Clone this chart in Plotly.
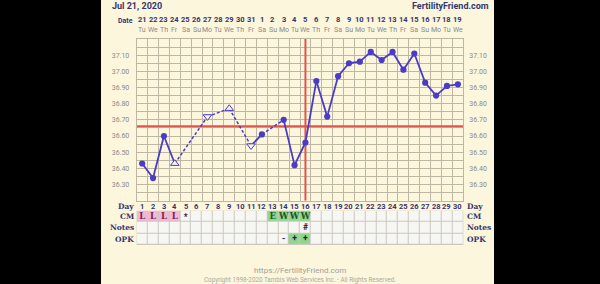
import plotly.graph_objects as go

# ---------------- data ----------------
days = list(range(1, 31))
dates = ["21", "22", "23", "24", "25", "26", "27", "28", "29", "30", "31",
         "1", "2", "3", "4", "5", "6", "7", "8", "9", "10", "11", "12", "13",
         "14", "15", "16", "17", "18", "19"]
weekdays = ["Tu", "We", "Th", "Fr", "Sa", "Su", "Mo", "Tu", "We", "Th", "Fr",
            "Sa", "Su", "Mo", "Tu", "We", "Th", "Fr", "Sa", "Su", "Mo", "Tu",
            "We", "Th", "Fr", "Sa", "Su", "Mo", "Tu", "We"]
temps = [36.43, 36.34, 36.60, 36.43, None, None, 36.72, None, 36.77, None,
         36.54, 36.61, None, 36.70, 36.42, 36.56, 36.94, 36.72, 36.97, 37.05,
         37.06, 37.12, 37.07, 37.12, 37.01, 37.11, 36.93, 36.85, 36.91, 36.92]
temp_marker = ["dot", "dot", "dot", "up", None, None, "down", None, "up", None,
               "down", "dot", None, "dot", "dot", "dot", "dot", "dot", "dot", "dot",
               "dot", "dot", "dot", "dot", "dot", "dot", "dot", "dot", "dot", "dot"]
temp_grid = [36.20, 36.25, 36.30, 36.35, 36.40, 36.45, 36.50, 36.55, 36.60, 36.65,
             36.70, 36.75, 36.80, 36.85, 36.90, 36.95, 37.00, 37.05, 37.10, 37.15, 37.20]
temp_labels = ["", "", "36.30", "", "36.40", "", "36.50", "", "36.60", "", "36.70",
               "", "36.80", "", "36.90", "", "37.00", "", "37.10", "", ""]
coverline = 36.66
ovulation_day = 16

cm = ["L", "L", "L", "L", "*", "", "", "", "", "", "", "", "E", "W", "W", "W",
      "", "", "", "", "", "", "", "", "", "", "", "", "", ""]
notes = ["", "", "", "", "", "", "", "", "", "", "", "", "", "", "", "#",
         "", "", "", "", "", "", "", "", "", "", "", "", "", ""]
opk = ["", "", "", "", "", "", "", "", "", "", "", "", "", "-", "+", "+",
       "", "", "", "", "", "", "", "", "", "", "", "", "", ""]

# ---------------- geometry / style ----------------
W, H = 600, 284
PAGE_X0, PAGE_X1 = 101, 494
GX0, GX1 = 136.7, 463.3
GY0, GY1 = 39.0, 200.7
TY0, TY1 = 210.7, 245.0

def fx(px):
    return px / W

def fy(py):
    return 1 - py / H

BEIGE = "#fcf6dc"
GRID = "#bdb7a3"
NAVY = "#37356e"
GRAYTXT = "#8a8a8a"
LINE = "#4a3cc6"
RED = "#e2554e"
PINK = "#f2b8d5"
GREEN = "#8fd68f"
CELL = "#f6f6f2"
FONT = "Roboto"
SERIF = "DejaVu Serif"

x_range = [days[0] - 0.5, days[-1] + 0.5]
y_range = [temp_grid[0], temp_grid[-1]]

fig = go.Figure()

# temperature line segments
sx, sy, dx, dy = [], [], [], []
present = [i for i, t in enumerate(temps) if t is not None]
for a, b in zip(present, present[1:]):
    if b - a == 1:
        sx += [days[a], days[b], None]
        sy += [temps[a], temps[b], None]
    else:
        dx += [days[a], days[b], None]
        dy += [temps[a], temps[b], None]

fig.add_trace(go.Scatter(x=dx, y=dy, mode="lines", line=dict(color=LINE, width=1.5, dash="3px,2px"),
                         hoverinfo="skip", showlegend=False))
fig.add_trace(go.Scatter(x=sx, y=sy, mode="lines", line=dict(color=LINE, width=1.8),
                         hoverinfo="skip", showlegend=False))

symbols = {"dot": "circle", "up": "triangle-up", "down": "triangle-down"}
for kind, sym in symbols.items():
    xs = [d for d, t, k in zip(days, temps, temp_marker) if t is not None and k == kind]
    ys = [t for t, k in zip(temps, temp_marker) if t is not None and k == kind]
    if kind == "dot":
        mk = dict(symbol=sym, size=6.2, color=LINE)
    else:
        mk = dict(symbol=sym, size=7.5, color=BEIGE, line=dict(color=LINE, width=1))
    fig.add_trace(go.Scatter(x=xs, y=ys, mode="markers", marker=mk,
                             hoverinfo="skip", showlegend=False))

# table (CM / Notes / OPK)
def code(v):
    if v == "L":
        return 1
    if v in ("E", "W", "+"):
        return 2
    return 0

table_rows = [opk, notes, cm]
fig.add_trace(go.Heatmap(
    x=days, y=[0, 1, 2], z=[[code(v) for v in r] for r in table_rows],
    zmin=0, zmax=2, colorscale=[[0, CELL], [0.5, PINK], [1, GREEN]],
    showscale=False, xgap=1, ygap=1, hoverinfo="skip",
    xaxis="x2", yaxis="y3"))

tx, ty, tt, tc, tf = [], [], [], [], []
for ri, r in enumerate(table_rows):
    for d, v in zip(days, r):
        if v:
            tx.append(d)
            ty.append(ri - (0.12 if v == "*" else 0))
            tt.append("<b>" + v + "</b>")
            if v == "L":
                tc.append("#7d2350")
                tf.append(SERIF)
            elif v in ("E", "W"):
                tc.append("#1e5a1e")
                tf.append(SERIF)
            else:
                tc.append("#222244")
                tf.append(FONT)
fig.add_trace(go.Scatter(x=tx, y=ty, text=tt, mode="text",
                         textfont=dict(family=tf, size=8.5, color=tc),
                         hoverinfo="skip", showlegend=False, xaxis="x2", yaxis="y3"))

# invisible trace to activate the right-side temperature axis
fig.add_trace(go.Scatter(x=[None], y=[None], yaxis="y2", xaxis="x", showlegend=False, hoverinfo="skip"))

# ---------------- layout ----------------
boundaries = [d - 0.5 for d in days] + [days[-1] + 0.5]

shapes = [
    dict(type="rect", xref="paper", yref="paper", x0=fx(PAGE_X0), x1=fx(PAGE_X1), y0=0, y1=1,
         fillcolor=BEIGE, line=dict(width=0), layer="below"),
    dict(type="rect", xref="paper", yref="paper", x0=fx(GX0), x1=fx(GX1), y0=fy(TY1), y1=fy(TY0),
         fillcolor="#cac8bf", line=dict(width=0), layer="below"),
    dict(type="line", xref="x", yref="y", x0=ovulation_day, x1=ovulation_day,
         y0=y_range[0], y1=y_range[1], line=dict(color=RED, width=2), layer="between"),
    dict(type="line", xref="x", yref="y", x0=x_range[0], x1=x_range[1], y0=coverline, y1=coverline,
         line=dict(color=RED, width=2), layer="between"),
]

ann = []
ann.append(dict(text="<b>Jul 21, 2020</b>", x=fx(110), y=fy(6), xref="paper", yref="paper",
                xanchor="left", yanchor="middle", showarrow=False,
                font=dict(family=FONT, size=9, color=NAVY)))
ann.append(dict(text="<b>FertilityFriend.com</b>", x=fx(491), y=fy(6), xref="paper", yref="paper",
                xanchor="right", yanchor="middle", showarrow=False,
                font=dict(family=FONT, size=9, color=NAVY)))
ann.append(dict(text="<b>Date</b>", x=fx(135), y=fy(21), xref="paper", yref="paper",
                xanchor="right", yanchor="middle", showarrow=False,
                font=dict(family=FONT, size=7, color=NAVY)))
for d, lab, wd in zip(days, dates, weekdays):
    ann.append(dict(text="<b>" + lab + "</b>", x=d, y=fy(19.8), xref="x", yref="paper",
                    xanchor="center", yanchor="middle", showarrow=False,
                    font=dict(family=FONT, size=7.5, color=NAVY)))
    ann.append(dict(text=wd, x=d, y=fy(29.5), xref="x", yref="paper",
                    xanchor="center", yanchor="middle", showarrow=False,
                    font=dict(family=FONT, size=7, color=GRAYTXT)))
    ann.append(dict(text="<b>" + str(d) + "</b>", x=d, y=fy(206), xref="x", yref="paper",
                    xanchor="center", yanchor="middle", showarrow=False,
                    font=dict(family=FONT, size=7.5, color=NAVY)))

row_h = (TY1 - TY0) / 3
row_labels = [("Day", 206), ("CM", TY0 + row_h / 2), ("Notes", TY0 + 1.5 * row_h), ("OPK", TY0 + 2.5 * row_h)]
for lab, py in row_labels:
    ann.append(dict(text="<b>" + lab + "</b>", x=fx(135.5), y=fy(py), xref="paper", yref="paper",
                    xanchor="right", yanchor="middle", showarrow=False,
                    font=dict(family=SERIF, size=7.5, color=NAVY)))
    ann.append(dict(text="<b>" + lab + "</b>", x=fx(464.5), y=fy(py), xref="paper", yref="paper",
                    xanchor="left", yanchor="middle", showarrow=False,
                    font=dict(family=SERIF, size=7.5, color=NAVY)))

ann.append(dict(text="https://FertilityFriend.com", x=0.5, y=fy(270.5), xref="paper", yref="paper",
                xanchor="center", yanchor="middle", showarrow=False,
                font=dict(family=FONT, size=8, color="#a09f9a")))
ann.append(dict(text="Copyright 1998-2020 Tambis Web Services Inc. - All Rights Reserved.",
                x=0.5, y=fy(279.5), xref="paper", yref="paper",
                xanchor="center", yanchor="middle", showarrow=False,
                font=dict(family=FONT, size=6.3, color="#aaa9a2")))

fig.update_layout(
    width=W, height=H, margin=dict(l=0, r=0, t=0, b=0),
    paper_bgcolor="black", plot_bgcolor=BEIGE,
    showlegend=False,
    xaxis=dict(domain=[fx(GX0), fx(GX1)], range=x_range, anchor="y",
               tickmode="array", tickvals=boundaries, showticklabels=False, ticks="",
               showgrid=True, gridcolor=GRID, gridwidth=1, zeroline=False,
               showline=True, mirror=True, linecolor=GRID, linewidth=1, fixedrange=True),
    yaxis=dict(domain=[fy(GY1), fy(GY0)], range=y_range, anchor="x",
               tickmode="array", tickvals=temp_grid, ticktext=temp_labels,
               ticks="", ticklabelstandoff=5,
               tickfont=dict(family=FONT, size=7, color=GRAYTXT),
               showgrid=True, gridcolor=GRID, gridwidth=1, zeroline=False,
               showline=True, mirror=True, linecolor=GRID, linewidth=1, fixedrange=True),
    yaxis2=dict(overlaying="y", side="right", range=y_range, anchor="x",
                tickmode="array", tickvals=temp_grid, ticktext=temp_labels,
                ticks="", ticklabelstandoff=5,
                tickfont=dict(family=FONT, size=7, color=GRAYTXT),
                showgrid=False, zeroline=False, showline=False, fixedrange=True),
    xaxis2=dict(domain=[fx(GX0), fx(GX1)], range=x_range, anchor="y3",
                showticklabels=False, ticks="", showgrid=False, zeroline=False,
                showline=False, fixedrange=True),
    yaxis3=dict(domain=[fy(TY1), fy(TY0)], range=[-0.5, 2.5], anchor="x2",
                showticklabels=False, ticks="", showgrid=False, zeroline=False,
                showline=False, fixedrange=True),
    shapes=shapes, annotations=ann,
)

fig.write_html("out.html")
